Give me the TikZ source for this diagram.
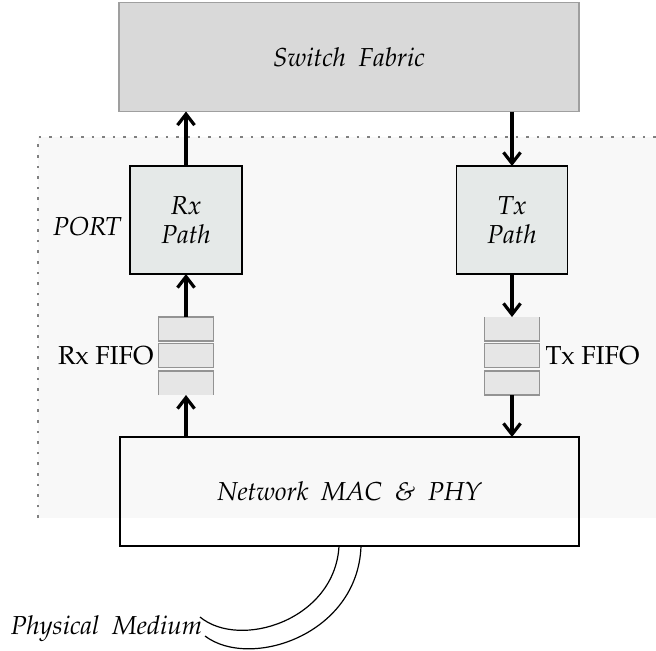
\documentclass[tikz,border=0pt]{standalone}
\usepackage[T1]{fontenc}
\usepackage{mathpazo}
\usepackage{tikz}
\usetikzlibrary{arrows.meta}
\definecolor{fabricgray}{RGB}{217,217,217}
\definecolor{pathfill}{RGB}{229,233,232}
\definecolor{portfill}{RGB}{248,248,248}
\definecolor{fifofill}{RGB}{230,230,230}

\begin{document}
\begin{tikzpicture}[x=0.5pt, y=-0.5pt, font=\fontsize{13}{14.5}\selectfont,
  every node/.style={inner sep=0pt, outer sep=0pt},
  box/.style={draw=black, line width=0.6pt, align=center, font=\fontsize{13}{14.5}\selectfont\itshape},
  fifo/.style={draw=gray!85, fill=fifofill, line width=0.7pt, minimum width=27.5pt, minimum height=12pt},
  fifoopen/.style={fifo, draw=none},
  flow/.style={-{Straight Barb[length=5.5pt,width=8.5pt]}, line width=1.6pt},
  portline/.style={gray, line width=1.3pt, dash pattern=on 1.3pt off 4pt},
  cable/.style={line width=0.6pt}]
\useasboundingbox (0,0) rectangle (656,650);

% port area
\fill[portfill] (38,137) rectangle (656,518);
\draw[portline] (38,518) -- (38,137) -- (656,137);
\node[font=\fontsize{13}{14.5}\selectfont\itshape, anchor=east] (port) at (121,227) {PORT};

% blocks
\node[box, fill=fabricgray, draw=gray!75, minimum width=230pt, minimum height=54.5pt] (fabric) at (349,57) {Switch\enspace Fabric};
\node[box, fill=pathfill, minimum width=56pt, minimum height=54pt] (rx) at (186,220) {Rx\\Path};
\node[box, fill=pathfill, minimum width=55.5pt, minimum height=54pt] (tx) at (512,220) {Tx\\Path};
\node[box, minimum width=229.5pt, minimum height=54.5pt] (mac) at (349.5,491.5) {Network\enspace MAC\enspace\&\enspace PHY};

% fifos (entry cell left open)
\node[fifo] (rxq1) at (186,329) {};
\node[fifo] (rxq2) at (186,355.5) {};
\node[fifoopen] (rxq3) at (186,383) {};
\draw[gray!85, line width=0.7pt] (rxq3.south west) -- (rxq3.north west) -- (rxq3.north east) -- (rxq3.south east);
\node[fifoopen] (txq1) at (512,329) {};
\draw[gray!85, line width=0.7pt] (txq1.north west) -- (txq1.south west) -- (txq1.south east) -- (txq1.north east);
\node[fifo] (txq2) at (512,355.5) {};
\node[fifo] (txq3) at (512,383) {};
\node[anchor=east, inner sep=2.5pt] (rxlbl) at (rxq2.west) {Rx FIFO};
\node[anchor=west, inner sep=3pt] (txlbl) at (txq2.east) {Tx FIFO};

% data flow
\draw[flow] (rx.north) -- (rx.north |- fabric.south);
\draw[flow] (tx.north |- fabric.south) -- (tx.north);
\draw[flow] (rxq1.north) -- (rx.south);
\draw[flow] (tx.south) -- (txq1.north);
\draw[flow] (rxq3.south |- mac.north) -- (rxq3.south);
\draw[flow] (txq3.south) -- (txq3.south |- mac.north);

% cable
\coordinate (medin) at (200,617);
\coordinate (medout) at (205,636);
\draw[cable] ([xshift=-5.25pt]mac.south) .. controls (335,620) and (240,650) .. (medin);
\draw[cable] ([xshift=5.75pt]mac.south) .. controls (358,635) and (250,670) .. (medout);
\node[font=\fontsize{13}{14.5}\selectfont\itshape, anchor=base east] (medium) at (202,634) {Physical\enspace Medium};
\end{tikzpicture}
\end{document}
